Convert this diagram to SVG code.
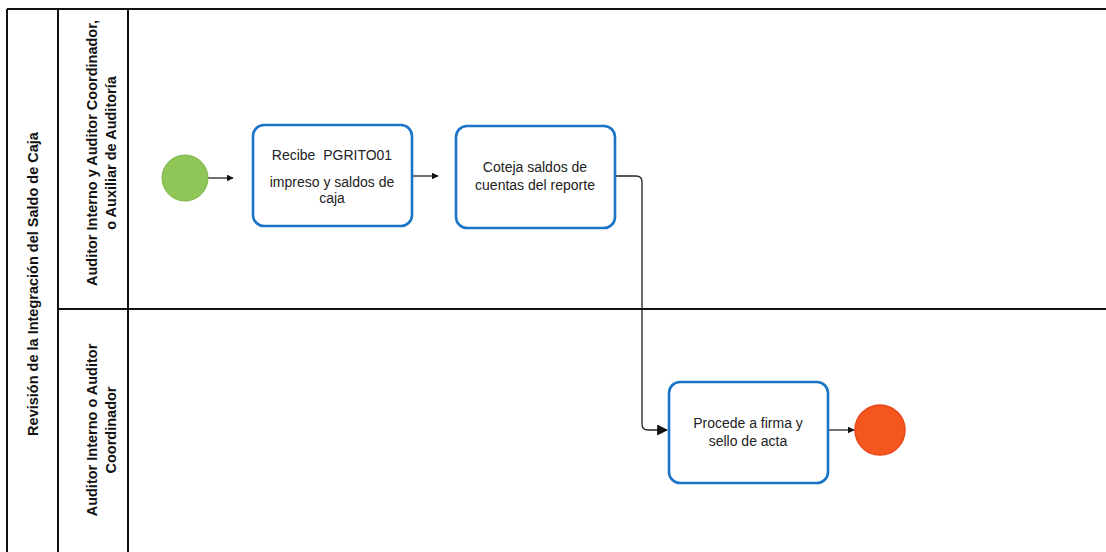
<svg xmlns="http://www.w3.org/2000/svg" width="1106" height="552" viewBox="0 0 1106 552">
<style>
.frame{stroke:#111;stroke-width:2;fill:none}
.task{fill:#fff;stroke:#1b74c6;stroke-width:2.6}
.lbl{font-family:"Liberation Sans",Arial,sans-serif;font-size:14.5px;font-weight:bold;fill:#111;text-anchor:middle}
.txt{font-family:"Liberation Sans",Arial,sans-serif;font-size:14px;fill:#222;text-anchor:middle}
.flow{stroke:#222;stroke-width:1.3;fill:none}
</style>
<defs>
<marker id="arr" viewBox="0 0 10 10" refX="9" refY="5" markerWidth="7" markerHeight="7" orient="auto" markerUnits="userSpaceOnUse">
<path d="M0,0 L10,5 L0,10 z" fill="#111"/>
</marker>
<marker id="arrL" viewBox="0 0 10 10" refX="9" refY="5" markerWidth="11" markerHeight="11" orient="auto" markerUnits="userSpaceOnUse">
<path d="M0,0 L10,5 L0,10 z" fill="#111"/>
</marker>
</defs>
<rect width="1106" height="552" fill="#fff"/>
<g id="pool">
<path class="frame" d="M7,9 H1106 M7,9 V552 M58,9 V552 M128,9 V552 M58,309 H1106"/>
<text class="lbl" transform="translate(38,284) rotate(-90)">Revisión de la Integración del Saldo de Caja</text>
</g>
<g id="lane1">
<text class="lbl" transform="translate(97,153) rotate(-90)">Auditor Interno y Auditor Coordinador,</text>
<text class="lbl" transform="translate(116,153) rotate(-90)">o Auxiliar de Auditoría</text>
</g>
<g id="lane2">
<text class="lbl" transform="translate(97,430) rotate(-90)">Auditor Interno o Auditor</text>
<text class="lbl" transform="translate(116,430) rotate(-90)">Coordinador</text>
</g>
<g id="connectors">
<line class="flow" x1="208" y1="178" x2="233" y2="178" marker-end="url(#arr)"/>
<line class="flow" x1="413" y1="176" x2="438" y2="176" marker-end="url(#arr)"/>
<path class="flow" d="M615,176 H636 Q642,176 642,182 V424 Q642,430 648,430 H667" marker-end="url(#arrL)"/>
<line class="flow" x1="829" y1="430" x2="854" y2="430" marker-end="url(#arr)"/>
</g>
<g id="start">
<circle cx="185" cy="178" r="23" fill="#8fc657" stroke="#7ab342" stroke-width="1"/>
</g>
<g id="task1">
<rect class="task" x="253" y="125" width="159" height="101" rx="11"/>
<text class="txt" x="332" y="160" xml:space="preserve">Recibe  PGRITO01</text>
<text class="txt" x="332" y="187">impreso y saldos de</text>
<text class="txt" x="332" y="203">caja</text>
</g>
<g id="task2">
<rect class="task" x="456" y="126" width="159" height="102" rx="11"/>
<text class="txt" x="535" y="172">Coteja saldos de</text>
<text class="txt" x="535" y="190">cuentas del reporte</text>
</g>
<g id="task3">
<rect class="task" x="669" y="382" width="159" height="101" rx="11"/>
<text class="txt" x="748" y="428">Procede a firma y</text>
<text class="txt" x="748" y="446">sello de acta</text>
</g>
<g id="end">
<circle cx="880" cy="430" r="25" fill="#f5561e" stroke="#e8441a" stroke-width="1.5"/>
</g>
</svg>
